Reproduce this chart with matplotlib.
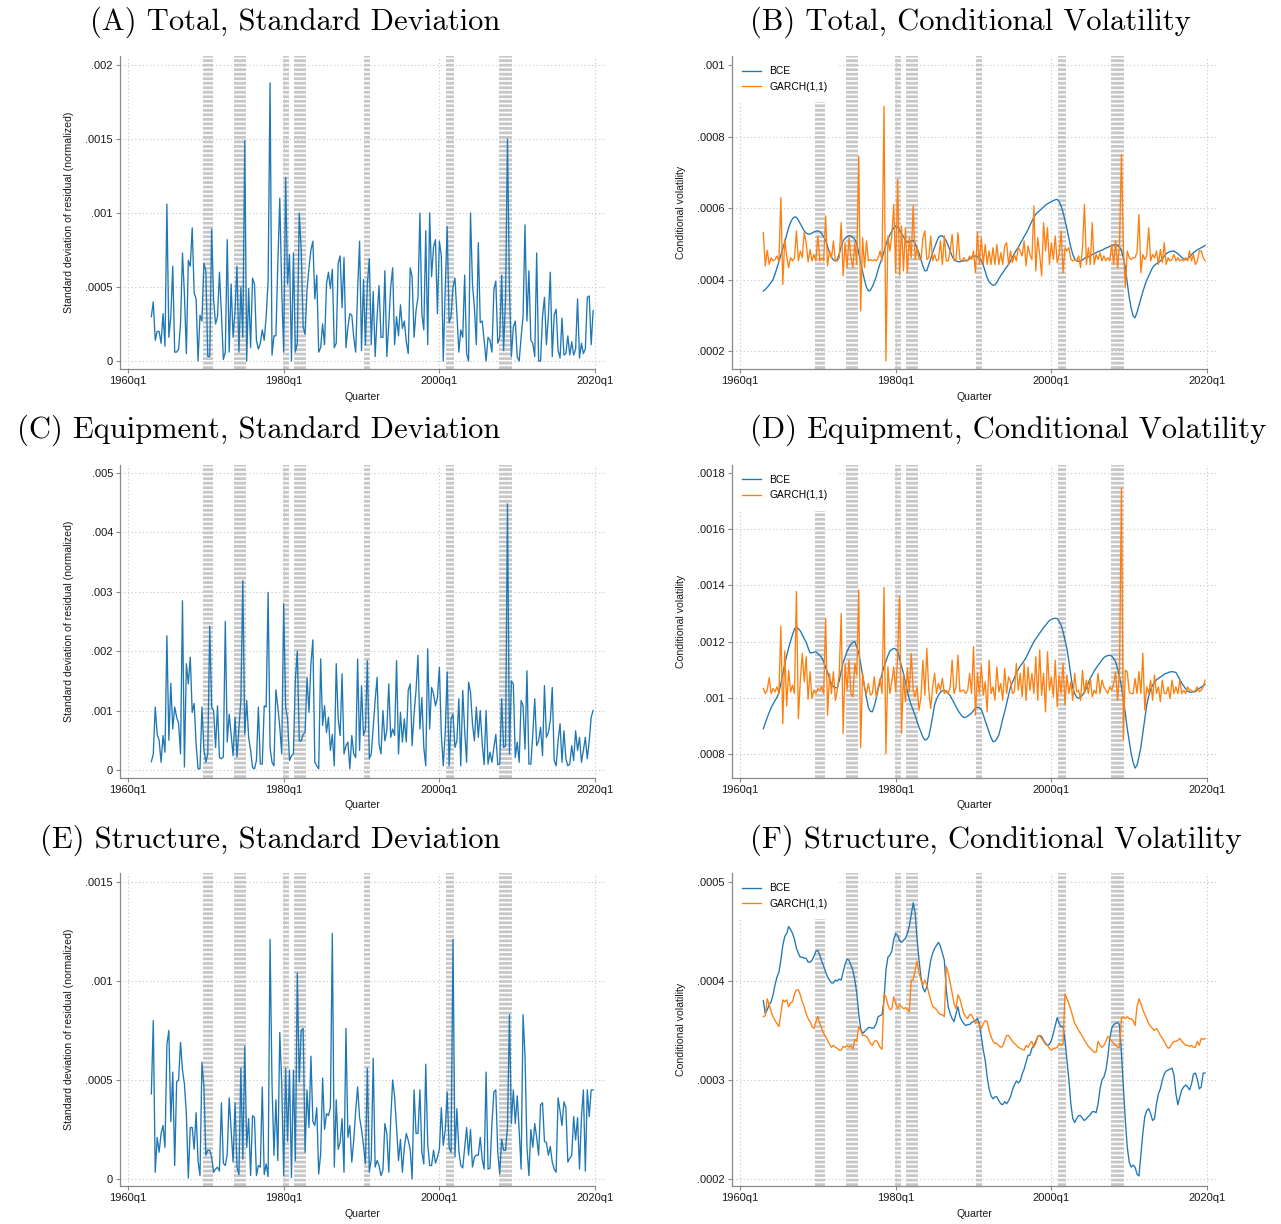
import numpy as np
import matplotlib.pyplot as plt

plt.rcParams['font.family'] = ['Liberation Sans', 'DejaVu Sans']
plt.rcParams['lines.scale_dashes'] = False

# quarterly sample 1963q1-2019q4, x axis counts quarters since 1960q1
first_quarter = 12

# NBER recessions (peak to trough)
recessions = [('1969q4', '1970q4'), ('1973q4', '1975q1'), ('1980q1', '1980q3'),
              ('1981q3', '1982q4'), ('1990q3', '1991q1'), ('2001q1', '2001q4'),
              ('2007q4', '2009q2')]

xtick_labels = ['1960q1', '1980q1', '2000q1', '2020q1']

# Total investment (x 1e-4)
total_sd = np.array([
    3.0, 4.0, 1.4, 2.0, 2.0, 1.2, 3.2, 1.0, 10.6, 1.6,
    3.0, 6.4, 0.6, 0.6, 0.8, 2.5, 7.3, 4.5, 0.5, 6.8,
    6.4, 9.0, 4.6, 4.2, 0.0, 3.1, 2.7, 6.6, 6.1, 0.3,
    0.3, 8.9, 4.1, 2.5, 3.0, 6.0, 3.2, 0.1, 0.6, 8.2,
    0.6, 5.2, 1.6, 3.4, 6.4, 0.6, 5.0, 1.6, 14.9, 0.0,
    4.9, 0.9, 5.6, 5.2, 1.4, 0.8, 1.2, 2.1, 1.4, 3.0,
    5.4, 18.8, 0.4, 1.7, 1.7, 6.6, 11.0, 4.8, 0.6, 12.4,
    5.2, 7.2, 0.0, 7.3, 0.6, 1.2, 10.0, 7.5, 2.3, 1.8,
    4.8, 6.3, 7.5, 8.1, 4.2, 5.8, 0.6, 0.9, 2.5, 1.1,
    5.2, 6.0, 4.9, 6.2, 0.9, 1.2, 6.6, 7.1, 3.6, 7.0,
    0.9, 2.3, 3.2, 3.1, 1.6, 0.6, 4.8, 8.1, 0.7, 5.5,
    1.1, 5.2, 6.9, 1.1, 4.7, 0.3, 3.0, 5.1, 1.6, 1.6,
    6.1, 0.3, 2.5, 5.0, 6.3, 1.1, 3.0, 1.7, 3.8, 2.2,
    2.7, 1.3, 0.5, 6.3, 5.7, 1.6, 3.4, 4.3, 10.0, 3.2,
    2.1, 8.8, 1.1, 10.0, 5.7, 7.7, 8.2, 3.2, 8.1, 7.1,
    0.0, 4.8, 9.1, 2.6, 3.0, 5.0, 5.6, 3.2, 0.6, 2.1,
    1.6, 5.8, 0.5, 0.0, 10.0, 5.2, 3.6, 1.1, 8.0, 2.6,
    2.7, 1.4, 0.0, 1.6, 1.4, 0.6, 4.8, 5.4, 1.2, 1.6,
    5.8, 0.7, 4.3, 15.0, 4.8, 0.3, 2.3, 2.7, 0.3, 0.0,
    1.6, 3.0, 9.2, 2.7, 6.1, 1.4, 1.2, 0.3, 7.3, 0.0,
    0.0, 3.0, 4.3, 1.1, 3.0, 6.0, 0.3, 3.1, 3.5, 0.7,
    0.2, 2.9, 0.4, 0.5, 1.7, 0.4, 1.3, 0.4, 0.8, 4.2,
    0.2, 1.2, 0.5, 0.8, 4.3, 4.4, 1.1, 3.4]) * 1e-4

total_bce = np.array([
    3.68, 3.72, 3.78, 3.85, 3.92, 4.0, 4.15, 4.32, 4.5, 4.68,
    4.85, 5.05, 5.25, 5.45, 5.6, 5.7, 5.75, 5.74, 5.66, 5.56,
    5.46, 5.36, 5.3, 5.27, 5.27, 5.3, 5.33, 5.35, 5.36, 5.34,
    5.28, 5.2, 5.1, 4.92, 4.75, 4.62, 4.55, 4.52, 4.56, 4.72,
    4.92, 5.08, 5.15, 5.2, 5.23, 5.22, 5.18, 5.12, 5.0, 4.75,
    4.48, 4.22, 3.98, 3.78, 3.68, 3.7, 3.8, 3.93, 4.08, 4.28,
    4.45, 4.6, 4.78, 4.98, 5.14, 5.25, 5.35, 5.45, 5.5, 5.47,
    5.38, 5.29, 5.2, 5.1, 5.04, 5.05, 5.08, 5.1, 5.0, 4.88,
    4.74, 4.55, 4.38, 4.24, 4.25, 4.42, 4.6, 4.75, 4.9, 5.05,
    5.18, 5.22, 5.22, 5.16, 5.08, 4.95, 4.8, 4.65, 4.56, 4.52,
    4.5, 4.5, 4.51, 4.52, 4.53, 4.54, 4.58, 4.62, 4.65, 4.66,
    4.64, 4.6, 4.52, 4.4, 4.22, 4.05, 3.94, 3.88, 3.84, 3.85,
    3.92, 4.02, 4.11, 4.19, 4.27, 4.35, 4.42, 4.52, 4.62, 4.72,
    4.82, 4.9, 5.0, 5.1, 5.2, 5.29, 5.4, 5.52, 5.63, 5.74,
    5.83, 5.88, 5.93, 5.98, 6.03, 6.08, 6.12, 6.15, 6.18, 6.21,
    6.23, 6.24, 6.18, 6.06, 5.88, 5.65, 5.42, 5.15, 4.9, 4.7,
    4.58, 4.52, 4.51, 4.52, 4.55, 4.59, 4.62, 4.64, 4.67, 4.7,
    4.73, 4.75, 4.78, 4.8, 4.82, 4.85, 4.88, 4.9, 4.93, 4.95,
    4.97, 4.98, 4.96, 4.91, 4.82, 4.6, 4.35, 3.9, 3.5, 3.2,
    2.98, 2.93, 3.08, 3.28, 3.47, 3.66, 3.83, 3.98, 4.1, 4.22,
    4.33, 4.4, 4.44, 4.48, 4.52, 4.58, 4.65, 4.72, 4.76, 4.78,
    4.79, 4.8, 4.76, 4.72, 4.67, 4.62, 4.58, 4.56, 4.57, 4.63,
    4.69, 4.75, 4.79, 4.83, 4.86, 4.89, 4.92, 4.95]) * 1e-4

total_garch = np.array([
    5.31, 4.38, 4.82, 4.42, 4.61, 4.52, 4.56, 4.66, 4.52, 6.29,
    3.86, 5.12, 4.66, 4.33, 4.61, 4.52, 4.61, 5.36, 4.52, 4.8,
    4.61, 5.31, 5.03, 4.49, 4.84, 4.52, 4.7, 4.52, 5.22, 4.52,
    4.61, 4.52, 5.78, 4.38, 4.8, 4.61, 5.08, 4.52, 4.52, 4.61,
    5.59, 4.1, 5.03, 4.33, 5.17, 4.61, 4.33, 5.03, 4.42, 7.45,
    3.12, 5.17, 4.33, 5.08, 4.52, 4.56, 4.52, 4.56, 4.52, 4.61,
    4.8, 4.52, 8.85, 1.72, 5.22, 4.8, 5.22, 6.1, 4.19, 6.8,
    4.12, 5.5, 4.24, 5.45, 4.19, 5.17, 4.61, 6.06, 4.56, 4.89,
    4.56, 4.56, 5.17, 5.36, 4.56, 4.61, 5.22, 4.52, 4.7, 4.52,
    4.56, 5.08, 4.42, 5.22, 4.52, 4.52, 4.8, 5.26, 4.52, 4.56,
    5.31, 4.56, 4.52, 4.61, 4.52, 4.52, 4.66, 4.56, 4.8, 4.19,
    5.31, 4.42, 5.17, 4.42, 4.98, 4.42, 4.8, 4.42, 4.89, 4.42,
    4.98, 4.42, 4.75, 4.42, 4.94, 5.03, 4.42, 4.8, 4.47, 4.7,
    4.52, 4.89, 4.8, 4.66, 5.08, 4.38, 4.94, 4.7, 4.56, 6.06,
    4.24, 5.17, 4.7, 4.1, 5.59, 4.8, 5.45, 4.42, 5.03, 4.56,
    5.22, 4.47, 4.7, 5.36, 4.19, 4.89, 4.8, 4.89, 4.56, 4.52,
    4.56, 4.52, 4.66, 4.33, 4.89, 6.1, 4.42, 4.89, 4.42, 5.59,
    4.42, 4.7, 4.56, 4.75, 4.52, 4.66, 4.52, 4.61, 4.52, 4.98,
    4.42, 5.08, 4.33, 4.98, 7.5, 4.89, 3.77, 4.8, 4.61, 4.56,
    4.61, 4.61, 4.75, 5.82, 4.19, 4.7, 4.56, 4.66, 5.45, 4.52,
    4.7, 4.61, 4.8, 4.42, 4.84, 4.47, 5.03, 4.42, 4.61, 4.52,
    4.56, 4.7, 4.52, 4.61, 4.52, 4.56, 4.52, 4.61, 4.52, 4.8,
    4.52, 4.7, 4.42, 4.52, 4.8, 4.8, 4.61, 4.52]) * 1e-4

# Equipment investment
equip_sd = np.array([
    0.14, 0.27, 1.06, 0.6, 0.5, 0.13, 0.58, 0.3, 2.26, 0.5,
    1.46, 0.69, 1.06, 0.89, 0.78, 0.27, 2.85, 0.05, 1.79, 1.45,
    1.9, 0.97, 1.12, 0.44, 0.02, 0.02, 1.06, 0.35, 0.13, 0.27,
    2.42, 1.06, 1.0, 0.38, 1.08, 0.21, 0.19, 0.22, 2.5, 0.47,
    0.94, 0.6, 0.24, 0.89, 0.22, 0.69, 1.17, 3.19, 0.6, 1.17,
    0.55, 0.33, 0.04, 0.02, 0.16, 1.06, 0.1, 0.1, 1.08, 1.06,
    2.99, 0.38, 0.13, 0.07, 1.35, 1.06, 0.72, 0.27, 2.8, 1.06,
    0.86, 0.16, 0.24, 0.27, 1.53, 2.0, 0.49, 0.49, 0.6, 0.63,
    1.56, 0.97, 1.79, 2.19, 0.13, 0.07, 0.02, 1.87, 0.75, 1.08,
    0.63, 0.89, 0.33, 0.6, 0.07, 1.79, 0.86, 0.58, 1.62, 0.27,
    0.41, 0.47, 0.02, 0.58, 0.27, 0.21, 1.87, 0.33, 1.42, 0.58,
    0.69, 1.84, 0.19, 0.27, 0.72, 1.17, 1.56, 0.44, 0.27, 1.0,
    0.49, 0.66, 1.45, 0.55, 0.69, 0.58, 1.84, 0.27, 0.97, 0.47,
    0.86, 0.47, 1.34, 1.45, 0.41, 0.94, 1.34, 1.93, 0.69, 1.22,
    0.38, 0.07, 2.04, 0.69, 1.39, 1.28, 1.08, 1.22, 1.73, 0.6,
    0.07, 0.63, 1.65, 0.07, 0.86, 0.94, 0.38, 0.49, 1.2, 0.07,
    1.34, 0.66, 0.13, 1.48, 1.31, 0.78, 0.49, 1.06, 0.55, 1.0,
    0.45, 0.09, 1.0, 0.1, 0.3, 0.13, 0.38, 0.6, 0.09, 0.1,
    1.2, 0.38, 0.4, 4.48, 0.27, 1.5, 1.45, 0.21, 0.47, 0.13,
    1.17, 1.08, 0.35, 1.67, 0.1, 0.1, 0.6, 1.2, 0.41, 0.49,
    0.72, 0.24, 1.42, 0.55, 0.63, 0.83, 1.39, 0.16, 0.07, 0.49,
    0.78, 0.13, 0.66, 0.19, 0.07, 0.1, 0.41, 0.16, 0.66, 0.33,
    0.55, 0.13, 0.33, 0.55, 0.19, 0.49, 0.89, 1.0]) * 1e-3

equip_bce = np.array([
    8.9, 9.1, 9.3, 9.48, 9.65, 9.78, 9.9, 10.02, 10.18, 10.5,
    10.85, 11.2, 11.5, 11.78, 12.02, 12.25, 12.45, 12.52, 12.46, 12.38,
    12.25, 12.1, 11.98, 11.78, 11.6, 11.6, 11.62, 11.64, 11.58, 11.5,
    11.44, 11.28, 11.08, 10.9, 10.7, 10.5, 10.4, 10.36, 10.36, 10.6,
    10.95, 11.25, 11.45, 11.65, 11.8, 11.9, 11.97, 12.0, 11.82, 11.6,
    11.22, 10.8, 10.38, 10.0, 9.65, 9.52, 9.5, 9.7, 9.98, 10.3,
    10.6, 10.85, 11.1, 11.3, 11.5, 11.66, 11.72, 11.76, 11.73, 11.66,
    11.4, 11.12, 10.87, 10.55, 10.25, 9.95, 9.74, 9.55, 9.37, 9.15,
    8.95, 8.78, 8.6, 8.5, 8.52, 8.62, 8.95, 9.35, 9.75, 9.95,
    10.1, 10.2, 10.25, 10.27, 10.22, 10.15, 10.08, 9.95, 9.82, 9.68,
    9.55, 9.45, 9.35, 9.3, 9.31, 9.35, 9.4, 9.46, 9.55, 9.64,
    9.67, 9.65, 9.58, 9.4, 9.18, 8.98, 8.78, 8.58, 8.44, 8.45,
    8.54, 8.68, 8.95, 9.25, 9.5, 9.8, 10.1, 10.39, 10.55, 10.72,
    10.88, 11.02, 11.13, 11.22, 11.32, 11.43, 11.58, 11.72, 11.86, 12.0,
    12.1, 12.2, 12.3, 12.4, 12.5, 12.58, 12.67, 12.75, 12.79, 12.82,
    12.83, 12.82, 12.72, 12.58, 12.35, 12.05, 11.75, 11.3, 10.8, 10.35,
    10.15, 10.02, 9.98, 10.02, 10.1, 10.2, 10.35, 10.52, 10.7, 10.82,
    10.95, 11.06, 11.16, 11.25, 11.35, 11.43, 11.48, 11.5, 11.52, 11.48,
    11.4, 11.28, 11.05, 10.75, 10.4, 9.95, 9.45, 8.9, 8.45, 8.02,
    7.7, 7.5, 7.6, 7.9, 8.25, 8.75, 9.25, 9.75, 10.05, 10.3,
    10.45, 10.55, 10.64, 10.69, 10.74, 10.79, 10.84, 10.87, 10.9, 10.92,
    10.93, 10.92, 10.9, 10.78, 10.65, 10.52, 10.42, 10.32, 10.24, 10.2,
    10.2, 10.21, 10.22, 10.28, 10.33, 10.38, 10.43, 10.48]) * 1e-4

equip_garch = np.array([
    10.33, 10.15, 10.27, 10.72, 10.15, 10.33, 10.21, 10.39, 10.15, 12.55,
    9.08, 11.67, 9.71, 10.98, 10.21, 10.45, 10.15, 13.78, 9.26, 10.63,
    11.58, 10.57, 11.46, 9.94, 10.93, 9.97, 10.27, 10.15, 10.33, 10.27,
    10.39, 10.15, 12.83, 9.38, 10.87, 10.15, 10.93, 9.91, 10.27, 10.87,
    13.0, 8.73, 11.22, 10.27, 11.34, 10.15, 10.03, 11.22, 10.81, 13.84,
    8.23, 10.87, 10.39, 10.15, 10.51, 10.09, 10.15, 10.75, 10.03, 10.39,
    10.69, 10.15, 13.93, 8.01, 11.1, 10.15, 10.57, 11.1, 10.21, 11.46,
    13.62, 8.73, 10.81, 9.86, 11.04, 10.21, 11.58, 10.27, 10.03, 10.39,
    9.56, 10.03, 11.34, 10.09, 11.76, 10.27, 9.62, 10.39, 10.87, 10.15,
    10.51, 10.27, 10.69, 10.15, 10.27, 10.15, 10.39, 11.34, 10.15, 10.39,
    11.52, 10.21, 10.27, 10.27, 10.15, 10.27, 10.87, 10.15, 11.82, 9.38,
    10.87, 10.15, 11.16, 10.09, 10.57, 9.5, 11.34, 10.15, 10.39, 9.91,
    11.1, 10.21, 10.51, 9.91, 11.04, 10.15, 10.75, 10.57, 10.15, 10.21,
    11.22, 10.27, 10.87, 10.03, 11.22, 9.91, 11.1, 10.27, 10.87, 10.15,
    11.46, 9.91, 11.7, 10.09, 10.87, 9.5, 11.64, 10.27, 10.75, 10.03,
    11.34, 9.68, 10.81, 10.15, 11.22, 9.74, 10.81, 10.15, 10.57, 9.91,
    10.87, 10.21, 10.27, 9.91, 10.98, 10.15, 10.63, 10.15, 10.69, 10.03,
    10.27, 10.15, 10.87, 10.15, 10.63, 10.39, 10.27, 10.15, 10.39, 10.27,
    10.51, 10.93, 9.91, 10.87, 17.46, 8.51, 10.98, 10.93, 10.21, 10.15,
    10.15, 10.69, 10.15, 10.93, 10.15, 11.59, 9.56, 10.39, 10.15, 10.63,
    9.91, 10.81, 10.15, 10.39, 9.86, 10.63, 10.15, 10.15, 10.39, 9.97,
    10.63, 10.15, 10.39, 10.15, 10.63, 10.15, 10.27, 10.15, 10.39, 10.27,
    10.27, 10.21, 10.27, 10.39, 10.21, 10.27, 10.39, 10.63]) * 1e-4

# Structures investment (x 1e-4)
struct_sd = np.array([
    4.3, 8.0, 0.34, 2.1, 1.35, 2.3, 2.7, 1.6, 6.8, 7.5,
    2.9, 5.4, 0.68, 4.9, 5.0, 6.9, 5.5, 4.8, 3.3, 0.05,
    2.6, 2.6, 1.5, 3.35, 0.9, 0.17, 5.9, 4.7, 1.2, 1.45,
    1.45, 1.1, 0.34, 0.5, 0.6, 0.4, 3.85, 0.8, 0.68, 1.27,
    4.1, 2.45, 0.85, 3.85, 0.6, 0.22, 5.6, 1.0, 6.7, 1.6,
    3.05, 0.17, 3.2, 3.1, 0.17, 0.68, 0.6, 4.65, 0.22, 0.76,
    0.12, 12.1, 4.8, 1.2, 4.0, 0.93, 7.4, 4.8, 0.17, 5.6,
    1.9, 5.5, 0.08, 5.5, 0.93, 10.4, 4.9, 7.5, 7.6, 1.35,
    4.5, 2.6, 6.2, 2.9, 2.7, 3.6, 0.25, 1.27, 5.1, 2.5,
    3.3, 3.2, 3.6, 12.4, 0.6, 4.0, 1.5, 1.85, 3.05, 0.34,
    7.6, 2.1, 2.7, 0.85, 1.95, 3.45, 4.65, 3.1, 2.5, 1.7,
    0.76, 5.6, 0.34, 1.0, 6.1, 0.6, 0.93, 0.68, 0.17, 0.45,
    2.8, 2.3, 0.34, 3.0, 5.0, 4.15, 2.6, 0.93, 2.0, 0.34,
    1.6, 2.3, 1.95, 1.5, 0.0, 4.5, 2.3, 2.3, 4.5, 1.35,
    0.76, 5.8, 1.8, 0.68, 0.68, 1.45, 0.8, 1.1, 1.5, 3.6,
    1.7, 2.45, 4.4, 1.6, 1.35, 12.1, 1.1, 3.55, 1.45, 0.68,
    0.56, 1.6, 2.6, 1.2, 2.5, 0.6, 1.1, 1.2, 1.2, 2.1,
    1.0, 0.5, 5.4, 0.5, 0.54, 2.8, 4.4, 4.5, 1.35, 0.25,
    2.0, 1.45, 1.45, 2.6, 8.3, 2.8, 4.5, 2.8, 4.2, 2.45,
    0.5, 8.3, 6.2, 1.6, 0.17, 2.5, 1.6, 2.8, 2.1, 1.2,
    3.75, 3.85, 1.9, 1.85, 1.2, 1.65, 0.85, 0.5, 0.34, 4.1,
    3.45, 2.7, 3.9, 3.6, 0.85, 1.05, 1.2, 3.15, 1.97, 3.1,
    0.5, 3.1, 4.5, 0.4, 4.5, 3.15, 4.5, 4.5]) * 1e-4

struct_bce = np.array([
    3.80, 3.67, 3.71, 3.76, 3.79, 3.86, 3.96, 4.04, 4.09, 4.21,
    4.36, 4.45, 4.48, 4.55, 4.52, 4.48, 4.42, 4.33, 4.28, 4.24,
    4.24, 4.23, 4.23, 4.19, 4.19, 4.21, 4.25, 4.30, 4.31, 4.26,
    4.20, 4.15, 4.09, 4.04, 4.01, 3.98, 3.98, 4.01, 4.0, 4.02,
    4.01, 4.09, 4.17, 4.22, 4.21, 4.16, 4.11, 4.01, 3.88, 3.67,
    3.52, 3.47, 3.49, 3.51, 3.53, 3.53, 3.52, 3.53, 3.57, 3.64,
    3.65, 3.66, 3.81, 4.11, 4.24, 4.26, 4.30, 4.42, 4.48, 4.46,
    4.41, 4.39, 4.41, 4.43, 4.48, 4.55, 4.67, 4.79, 4.69, 4.42,
    4.21, 4.04, 3.93, 3.89, 3.94, 4.08, 4.21, 4.28, 4.33, 4.36,
    4.39, 4.35, 4.28, 4.21, 3.91, 3.74, 3.67, 3.62, 3.59, 3.67,
    3.74, 3.64, 3.60, 3.57, 3.55, 3.56, 3.56, 3.58, 3.59, 3.60,
    3.62, 3.57, 3.44, 3.30, 3.20, 3.03, 2.91, 2.84, 2.81, 2.83,
    2.83, 2.79, 2.76, 2.75, 2.78, 2.76, 2.79, 2.83, 2.90, 2.95,
    2.99, 2.97, 2.99, 3.06, 3.11, 3.18, 3.25, 3.25, 3.32, 3.35,
    3.39, 3.44, 3.45, 3.44, 3.40, 3.37, 3.35, 3.36, 3.40, 3.47,
    3.55, 3.63, 3.57, 3.54, 3.54, 3.40, 3.20, 3.00, 2.76, 2.61,
    2.57, 2.61, 2.64, 2.64, 2.61, 2.59, 2.61, 2.63, 2.65, 2.68,
    2.68, 2.67, 2.76, 2.91, 3.00, 3.03, 3.10, 3.23, 3.42, 3.52,
    3.56, 3.57, 3.58, 3.56, 3.27, 2.93, 2.59, 2.32, 2.17, 2.12,
    2.14, 2.12, 2.05, 2.03, 2.25, 2.46, 2.63, 2.69, 2.71, 2.66,
    2.59, 2.61, 2.76, 2.86, 2.91, 3.00, 3.06, 3.09, 3.10, 3.11,
    3.12, 3.05, 2.86, 2.75, 2.83, 2.90, 2.93, 2.95, 2.93, 2.90,
    2.96, 3.06, 3.07, 3.01, 2.91, 2.93, 3.07, 3.07]) * 1e-4

struct_garch = np.array([
    3.64, 3.65, 3.82, 3.76, 3.69, 3.64, 3.60, 3.57, 3.54, 3.67,
    3.81, 3.79, 3.81, 3.74, 3.78, 3.79, 3.87, 3.91, 3.91, 3.86,
    3.79, 3.74, 3.67, 3.62, 3.59, 3.54, 3.52, 3.59, 3.64, 3.57,
    3.52, 3.47, 3.44, 3.40, 3.36, 3.33, 3.35, 3.33, 3.32, 3.30,
    3.30, 3.34, 3.33, 3.35, 3.33, 3.35, 3.31, 3.41, 3.39, 3.54,
    3.50, 3.45, 3.45, 3.44, 3.41, 3.37, 3.35, 3.39, 3.40, 3.37,
    3.33, 3.31, 3.87, 3.84, 3.76, 3.71, 3.72, 3.84, 3.77, 3.72,
    3.76, 3.74, 3.72, 3.73, 3.71, 3.69, 4.01, 4.01, 4.11, 4.20,
    4.08, 4.01, 3.96, 4.01, 3.96, 3.88, 3.81, 3.74, 3.73, 3.71,
    3.68, 3.66, 3.66, 3.64, 4.15, 4.08, 3.98, 3.88, 3.77, 3.72,
    3.86, 3.82, 3.74, 3.67, 3.64, 3.62, 3.66, 3.66, 3.62, 3.57,
    3.59, 3.55, 3.52, 3.57, 3.60, 3.59, 3.50, 3.44, 3.39, 3.37,
    3.37, 3.35, 3.33, 3.34, 3.40, 3.45, 3.45, 3.42, 3.39, 3.37,
    3.35, 3.33, 3.32, 3.31, 3.30, 3.35, 3.33, 3.37, 3.39, 3.33,
    3.37, 3.44, 3.45, 3.42, 3.39, 3.36, 3.35, 3.32, 3.30, 3.32,
    3.32, 3.33, 3.37, 3.35, 3.37, 3.87, 3.82, 3.77, 3.71, 3.64,
    3.57, 3.54, 3.50, 3.47, 3.44, 3.40, 3.37, 3.34, 3.32, 3.30,
    3.28, 3.28, 3.39, 3.35, 3.33, 3.35, 3.39, 3.44, 3.42, 3.39,
    3.37, 3.35, 3.33, 3.33, 3.62, 3.64, 3.62, 3.64, 3.62, 3.62,
    3.60, 3.55, 3.74, 3.82, 3.77, 3.71, 3.66, 3.62, 3.57, 3.54,
    3.52, 3.50, 3.52, 3.49, 3.45, 3.42, 3.39, 3.35, 3.32, 3.33,
    3.37, 3.39, 3.39, 3.40, 3.42, 3.39, 3.37, 3.35, 3.35, 3.34,
    3.35, 3.33, 3.33, 3.39, 3.35, 3.42, 3.41, 3.42]) * 1e-4


def quarter_index(label):
    year, q = label.split('q')
    return (int(year) - 1960) * 4 + int(q) - 1


def stata_label(v):
    s = ('%.6f' % v).rstrip('0').rstrip('.')
    return s[1:] if s.startswith('0.') else s


BLUE = '#1f77b4'
ORANGE = '#ff7f0e'
AXIS_GREY = '#8a8a8a'

W, H = 1281, 1224
fig = plt.figure(figsize=(W / 100, H / 100), dpi=100)

col_left = [120.2, 732.2]
row_top = [56, 464.5, 873]
box_w, box_h = 484.6, 313
title_y = [22, 430, 840]


def draw_panel(col, row, title, series, ylim, yticks, ylabel):
    ax = fig.add_axes([col_left[col] / W, 1 - (row_top[row] + box_h) / H,
                       box_w / W, box_h / H])
    ax.set_xlim(-4, 245)
    ax.set_ylim(*ylim)

    # recession quarters as dashed grey lines
    for start, end in recessions:
        for q in range(quarter_index(start), quarter_index(end) + 1):
            ax.axvline(q, color='#c6c6c6', lw=1.4, ls=(0, (2.0, 1.25)), zorder=1)

    for label, values, color in series:
        x = first_quarter + np.arange(len(values))
        ax.plot(x, values, color=color, lw=0.95, label=label, zorder=3)

    ax.set_xticks([0, 80, 160, 240])
    ax.set_xticklabels(xtick_labels)
    ax.set_yticks(yticks)
    ax.set_yticklabels([stata_label(v) for v in yticks])
    ax.grid(True, ls=':', color='#cfcfcf', lw=0.8, zorder=0)

    for side in ['top', 'right']:
        ax.spines[side].set_visible(False)
    for side in ['left', 'bottom']:
        ax.spines[side].set_color(AXIS_GREY)
        ax.spines[side].set_linewidth(0.9)
        ax.spines[side].set_zorder(6)
    ax.spines['bottom'].set_bounds(-4, 240)
    ax.tick_params(direction='out', length=3, width=0.8, color=AXIS_GREY,
                   labelsize=8, labelcolor='#1a1a1a', pad=2.2)

    ax.set_xlabel('Quarter', fontsize=7.6, color='#1a1a1a')
    ax.xaxis.set_label_coords(0.5, -0.072)
    ax.set_ylabel(ylabel, fontsize=7.6, color='#1a1a1a')
    ax.yaxis.set_label_coords(-0.096, 0.5)

    if len(series) > 1:
        leg = ax.legend(loc='upper left', fontsize=7.4, borderaxespad=0,
                        borderpad=1.0, handlelength=1.8, handletextpad=0.8,
                        labelspacing=0.55, fancybox=False, framealpha=1)
        leg.get_frame().set_facecolor('white')
        leg.get_frame().set_edgecolor('none')
        leg.set_zorder(5)

    if col == 0:
        fig.text(500 / W, 1 - title_y[row] / H, title, ha='right', va='center',
                 fontfamily='cmr10', fontsize=22)
    else:
        fig.text(750 / W, 1 - title_y[row] / H, title, ha='left', va='center',
                 fontfamily='cmr10', fontsize=22)
    return ax


sd_label = 'Standard deviation of residual (normalized)'
cv_label = 'Conditional volatility'

draw_panel(0, 0, '(A) Total, Standard Deviation',
           [('SD', total_sd, BLUE)],
           (-5.4e-5, 2.061e-3), [0, .0005, .001, .0015, .002], sd_label)
draw_panel(1, 0, '(B) Total, Conditional Volatility',
           [('BCE', total_bce, BLUE), ('GARCH(1,1)', total_garch, ORANGE)],
           (1.497e-4, 1.0252e-3), [.0002, .0004, .0006, .0008, .001], cv_label)
draw_panel(0, 1, '(C) Equipment, Standard Deviation',
           [('SD', equip_sd, BLUE)],
           (-1.263e-4, 5.143e-3), [0, .001, .002, .003, .004, .005], sd_label)
draw_panel(1, 1, '(D) Equipment, Conditional Volatility',
           [('BCE', equip_bce, BLUE), ('GARCH(1,1)', equip_garch, ORANGE)],
           (7.164e-4, 1.8303e-3), [.0008, .001, .0012, .0014, .0016, .0018], cv_label)
draw_panel(0, 2, '(E) Structure, Standard Deviation',
           [('SD', struct_sd, BLUE)],
           (-3.54e-5, 1.5455e-3), [0, .0005, .001, .0015], sd_label)
draw_panel(1, 2, '(F) Structure, Conditional Volatility',
           [('BCE', struct_bce, BLUE), ('GARCH(1,1)', struct_garch, ORANGE)],
           (1.929e-4, 5.091e-4), [.0002, .0003, .0004, .0005], cv_label)

fig.savefig('out.png', dpi=100, facecolor='white')
